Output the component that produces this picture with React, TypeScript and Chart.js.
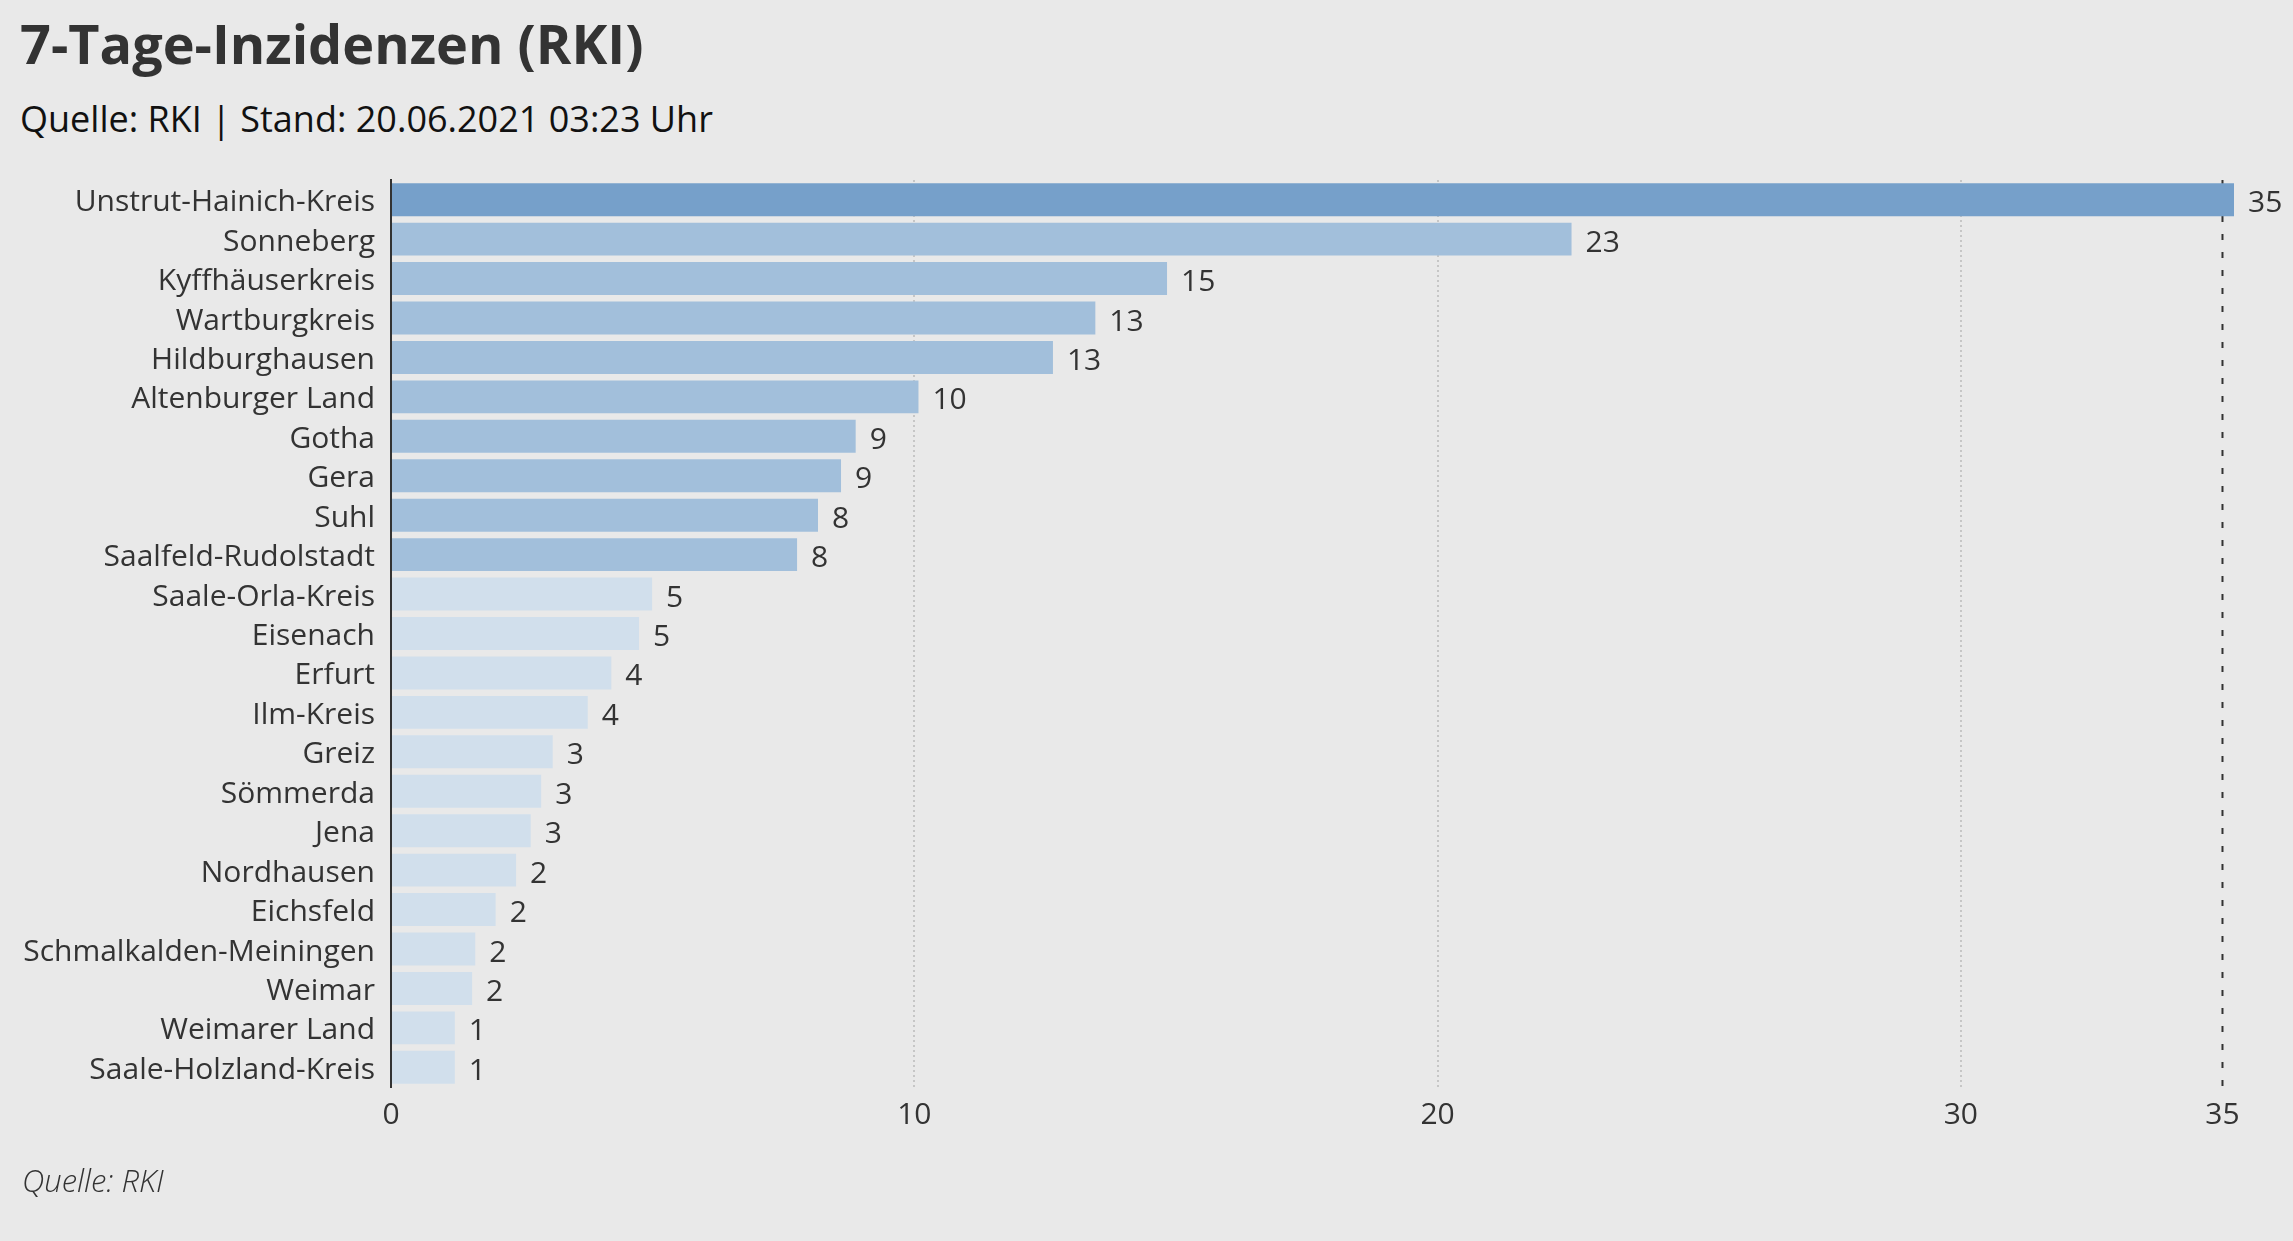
// App.tsx
import { useEffect, useRef } from 'react';
import Chart from 'chart.js/auto';

// Landkreise (Thüringen), sortiert nach Inzidenz
const districts = [
  'Unstrut-Hainich-Kreis',
  'Sonneberg',
  'Kyffhäuserkreis',
  'Wartburgkreis',
  'Hildburghausen',
  'Altenburger Land',
  'Gotha',
  'Gera',
  'Suhl',
  'Saalfeld-Rudolstadt',
  'Saale-Orla-Kreis',
  'Eisenach',
  'Erfurt',
  'Ilm-Kreis',
  'Greiz',
  'Sömmerda',
  'Jena',
  'Nordhausen',
  'Eichsfeld',
  'Schmalkalden-Meiningen',
  'Weimar',
  'Weimarer Land',
  'Saale-Holzland-Kreis',
];

// 7-Tage-Inzidenz (geschätzt aus den Balkenlängen)
const incidences = [
  35.22, 22.56, 14.83, 13.46, 12.65, 10.08, 8.88, 8.6, 8.16, 7.76, 4.99, 4.74,
  4.21, 3.76, 3.09, 2.87, 2.67, 2.39, 2.0, 1.61, 1.55, 1.22, 1.22,
];

// angezeigte (gerundete) Werte
const shownValues = [
  35, 23, 15, 13, 13, 10, 9, 9, 8, 8, 5, 5, 4, 4, 3, 3, 3, 2, 2, 2, 2, 1, 1,
];

const xTicks = [0, 10, 20, 30, 35];
const threshold = 35;

const FONT = "'Open Sans', 'Noto Sans', sans-serif";
const TEXT = '#333333';

const barColor = (v: number) => {
  if (v >= threshold) return '#76a0ca';
  if (v >= 7) return '#a2bfdb';
  return '#d1dfec';
};

export default function App() {
  const canvasRef = useRef<HTMLCanvasElement>(null);
  const chartRef = useRef<Chart | null>(null);

  useEffect(() => {
    if (!canvasRef.current) return;
    const ctx = canvasRef.current.getContext('2d');
    if (!ctx) return;

    // Linie bei 35 (gestrichelt, hinter den Balken)
    const thresholdLine = {
      id: 'thresholdLine',
      beforeDatasetsDraw(chart: any) {
        const { ctx: c, chartArea, scales } = chart;
        const x = scales.x.getPixelForValue(threshold);
        c.save();
        c.strokeStyle = TEXT;
        c.lineWidth = 2;
        c.setLineDash([6, 12]);
        c.beginPath();
        c.moveTo(x, chartArea.top);
        c.lineTo(x, chartArea.bottom);
        c.stroke();
        c.restore();
      },
    };

    // Werte rechts neben den Balken
    const valueLabels = {
      id: 'valueLabels',
      afterDatasetsDraw(chart: any) {
        const c = chart.ctx;
        const meta = chart.getDatasetMeta(0);
        c.save();
        c.font = `30px ${FONT}`;
        c.fillStyle = TEXT;
        c.textAlign = 'left';
        c.textBaseline = 'middle';
        meta.data.forEach((bar: any, i: number) => {
          c.fillText(String(shownValues[i]), bar.x + 14, bar.y + 4);
        });
        c.restore();
      },
    };

    chartRef.current = new Chart(ctx, {
      type: 'bar',
      data: {
        labels: districts,
        datasets: [
          {
            data: incidences,
            backgroundColor: incidences.map(barColor),
            borderWidth: 0,
            barPercentage: 0.835,
            categoryPercentage: 1,
          },
        ],
      },
      options: {
        indexAxis: 'y',
        responsive: false,
        animation: false,
        devicePixelRatio: 1,
        layout: { padding: { top: 180, right: 59, left: 0, bottom: 0 } },
        plugins: {
          legend: { display: false },
          tooltip: { enabled: false },
          title: { display: false },
        },
        scales: {
          x: {
            type: 'linear',
            min: 0,
            max: Math.max(...incidences),
            afterBuildTicks: (scale: any) => {
              scale.ticks = xTicks.map(v => ({ value: v }));
            },
            afterFit: (scale: any) => {
              scale.height = 154;
            },
            grid: {
              drawTicks: false,
              lineWidth: 2,
              color: (c: any) =>
                c.tick && c.tick.value > 0 && c.tick.value < threshold
                  ? '#c6c6c6'
                  : 'rgba(0,0,0,0)',
            },
            border: { display: false, dash: [2, 3] },
            ticks: {
              padding: 10,
              color: TEXT,
              font: { family: FONT, size: 30 },
              maxRotation: 0,
              autoSkip: false,
            },
          },
          y: {
            afterFit: (scale: any) => {
              scale.width = 391;
            },
            grid: { display: true, drawTicks: false, color: 'rgba(0,0,0,0)' },
            border: { display: true, color: TEXT, width: 2 },
            ticks: {
              padding: 16,
              labelOffset: 3,
              color: TEXT,
              font: { family: FONT, size: 30 },
              autoSkip: false,
            },
          },
        },
      },
      plugins: [thresholdLine, valueLabels],
    });

    return () => {
      if (chartRef.current) {
        chartRef.current.destroy();
        chartRef.current = null;
      }
    };
  }, []);

  return (
    <div
      style={{
        position: 'fixed',
        left: 0,
        top: 0,
        width: 2293,
        height: 1241,
        background: '#e9e9e9',
        fontFamily: FONT,
        overflow: 'hidden',
      }}
    >
      <div
        style={{
          position: 'absolute',
          left: 20,
          top: 16,
          fontSize: 54,
          lineHeight: '54px',
          fontWeight: 700,
          color: TEXT,
          whiteSpace: 'nowrap',
        }}
      >
        7-Tage-Inzidenzen (RKI)
      </div>
      <div
        style={{
          position: 'absolute',
          left: 20,
          top: 101,
          fontSize: 36,
          lineHeight: '36px',
          color: '#111111',
          whiteSpace: 'nowrap',
        }}
      >
        Quelle: RKI | Stand: 20.06.2021 03:23 Uhr
      </div>
      <canvas
        ref={canvasRef}
        width={2293}
        height={1241}
        style={{ position: 'absolute', left: 0, top: 0 }}
      />
      <div
        style={{
          position: 'absolute',
          left: 22,
          top: 1165,
          fontSize: 31,
          lineHeight: '31px',
          fontStyle: 'italic',
          fontWeight: 300,
          color: '#333333',
          whiteSpace: 'nowrap',
        }}
      >
        Quelle: RKI
      </div>
    </div>
  );
}
